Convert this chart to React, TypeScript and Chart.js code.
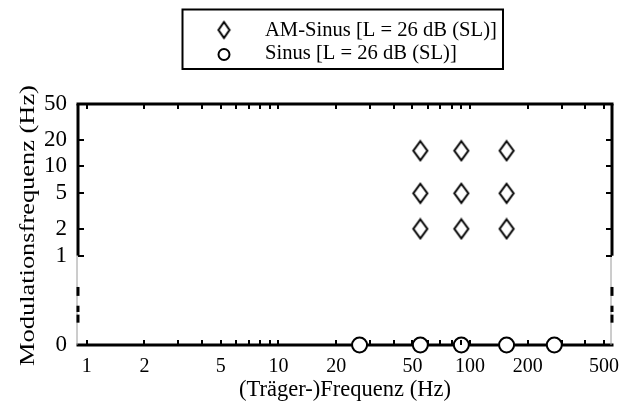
import React, { useEffect, useRef } from 'react';
import { Chart, registerables } from 'chart.js';

Chart.register(...registerables);

const FONT_FAMILY = "'Liberation Serif', 'Times New Roman', serif";

// ---- data ----
const xTickValues = [1, 2, 3, 4, 5, 6, 7, 8, 9, 10, 20, 30, 40, 50, 60, 70, 80, 90, 100, 200, 300, 400, 500];
const xTickLabels = [1, 2, 5, 10, 20, 50, 100, 200, 500];
const yTickValues = [0, 1, 2, 5, 10, 20, 50];
const X_MIN = 0.9;
const X_MAX = 550;
const Y_MAX = 50;
const Y_ZERO = 0.1; // where "0" sits on the broken log axis

const amSinusCarrier = [55, 55, 55, 90, 90, 90, 155, 155, 155];
const amSinusMod = [15, 5, 2, 15, 5, 2, 15, 5, 2];
const sinusCarrier = [26.5, 55, 90, 155, 275];
const sinusMod = [0, 0, 0, 0, 0];

const legendLabels = ['AM-Sinus [L = 26 dB (SL)]', 'Sinus [L = 26 dB (SL)]'];
const xTitle = '(Träger-)Frequenz (Hz)';
const yTitle = 'Modulationsfrequenz (Hz)';

const toY = (v: number) => (v === 0 ? Y_ZERO : v);

function makeDiamond(w: number, h: number, lw: number): HTMLCanvasElement {
  const c = document.createElement('canvas');
  c.width = Math.ceil(w + lw * 2);
  c.height = Math.ceil(h + lw * 2);
  const ctx = c.getContext('2d')!;
  const cx = c.width / 2;
  const cy = c.height / 2;
  ctx.beginPath();
  ctx.moveTo(cx, cy - h / 2);
  ctx.lineTo(cx + w / 2, cy);
  ctx.lineTo(cx, cy + h / 2);
  ctx.lineTo(cx - w / 2, cy);
  ctx.closePath();
  ctx.lineWidth = lw;
  ctx.strokeStyle = '#000';
  ctx.stroke();
  return c;
}

function line(ctx: CanvasRenderingContext2D, x1: number, y1: number, x2: number, y2: number) {
  ctx.beginPath();
  ctx.moveTo(x1, y1);
  ctx.lineTo(x2, y2);
  ctx.stroke();
}

const frame = {
  id: 'frame',
  beforeDatasetsDraw(chart: any) {
    const ctx: CanvasRenderingContext2D = chart.ctx;
    const { left, right, top, bottom } = chart.chartArea;
    const y1 = chart.scales.y.getPixelForValue(1);
    ctx.save();
    ctx.strokeStyle = '#000';
    ctx.lineWidth = 3;
    ctx.lineCap = 'butt';
    line(ctx, left - 1.5, top, right + 1.5, top);
    line(ctx, left - 1.5, bottom, right + 1.5, bottom);
    line(ctx, left, top, left, y1);
    line(ctx, right, top, right, y1);
    // broken section
    ctx.lineWidth = 1;
    ctx.strokeStyle = '#9a9a9a';
    line(ctx, left - 1, y1, left - 1, bottom);
    line(ctx, right - 1, y1, right - 1, bottom);
    ctx.strokeStyle = '#000';
    ctx.lineWidth = 3;
    const segs = [[0.35, 0.45], [0.56, 0.63], [0.66, 0.75]];
    for (const [a, b] of segs) {
      const ya = y1 + a * (bottom - y1);
      const yb = y1 + b * (bottom - y1);
      line(ctx, left, ya, left, yb);
      line(ctx, right, ya, right, yb);
    }
    ctx.restore();
  },
  afterDatasetsDraw(chart: any) {
    const ctx: CanvasRenderingContext2D = chart.ctx;
    const { left, right, top, bottom } = chart.chartArea;
    const xs = chart.scales.x;
    const ys = chart.scales.y;
    ctx.save();
    ctx.strokeStyle = '#000';
    ctx.lineWidth = 2;
    for (const v of xTickValues) {
      const px = Math.round(xs.getPixelForValue(v));
      line(ctx, px, bottom, px, bottom - 5);
      line(ctx, px, top, px, top + 5);
    }
    for (const v of yTickValues) {
      if (v === 0 || v === Y_MAX) continue;
      const py = Math.round(ys.getPixelForValue(toY(v)));
      line(ctx, left, py, left + 6, py);
      line(ctx, right, py, right - 6, py);
    }
    ctx.restore();
  },
  afterDraw(chart: any) {
    const ctx: CanvasRenderingContext2D = chart.ctx;
    const { top, bottom } = chart.chartArea;
    ctx.save();
    // y-axis title (stretched along its length like the reference)
    ctx.save();
    ctx.translate(28, (top + bottom) / 2 + 1);
    ctx.rotate(-Math.PI / 2);
    ctx.scale(1.2, 1);
    ctx.font = `22px ${FONT_FAMILY}`;
    ctx.fillStyle = '#000';
    ctx.textAlign = 'center';
    ctx.textBaseline = 'middle';
    ctx.fillText(yTitle, 0, 0);
    ctx.restore();

    // legend
    ctx.strokeStyle = '#000';
    ctx.lineWidth = 2;
    ctx.strokeRect(182.5, 9.5, 320.5, 59.5);
    const d = makeDiamond(11, 16, 2);
    ctx.drawImage(d, 224 - d.width / 2, 30 - d.height / 2);
    ctx.beginPath();
    ctx.arc(224, 54.5, 5.5, 0, Math.PI * 2);
    ctx.lineWidth = 2;
    ctx.stroke();
    ctx.fillStyle = '#000';
    ctx.font = `20.6px ${FONT_FAMILY}`;
    ctx.textBaseline = 'alphabetic';
    ctx.textAlign = 'left';
    ctx.fillText(legendLabels[0], 265, 35.5);
    ctx.fillText(legendLabels[1], 265, 59);
    ctx.restore();
  },
};

export default function App() {
  const ref = useRef<HTMLCanvasElement>(null);
  useEffect(() => {
    const canvas = ref.current!;
    const diamond = makeDiamond(14, 19, 2);
    const chart = new Chart(canvas, {
      type: 'scatter',
      data: {
        datasets: [
          {
            label: legendLabels[0],
            data: amSinusCarrier.map((x, i) => ({ x, y: toY(amSinusMod[i]) })),
            pointStyle: diamond as any,
            pointRadius: 9,
            showLine: false,
          },
          {
            label: legendLabels[1],
            data: sinusCarrier.map((x, i) => ({ x, y: toY(sinusMod[i]) })),
            pointStyle: 'circle',
            pointRadius: 7.5,
            borderWidth: 2,
            borderColor: '#000',
            backgroundColor: '#fff',
            clip: false as any,
            showLine: false,
          },
        ],
      },
      options: {
        animation: false,
        responsive: false,
        devicePixelRatio: 1,
        layout: { padding: { top: 104, right: 22, left: 0, bottom: 0 } },
        plugins: { legend: { display: false }, tooltip: { enabled: false } },
        scales: {
          x: {
            type: 'logarithmic',
            position: 'bottom',
            min: X_MIN,
            max: X_MAX,
            grid: { display: false, drawTicks: false },
            border: { display: false },
            afterBuildTicks: (s: any) => {
              s.ticks = xTickValues.map((v) => ({ value: v }));
            },
            afterFit: (s: any) => {
              s.height = 69;
            },
            ticks: {
              autoSkip: false,
              maxRotation: 0,
              minRotation: 0,
              padding: 10,
              color: '#000',
              font: { family: FONT_FAMILY, size: 20 },
              callback: (v: any) => (xTickLabels.includes(Number(v)) ? String(v) : ''),
            },
            title: {
              display: true,
              text: xTitle,
              color: '#000',
              font: { family: FONT_FAMILY, size: 22.5 },
              padding: { top: 0, bottom: 10.5 },
            },
          },
          y: {
            type: 'logarithmic',
            position: 'left',
            min: Y_ZERO,
            max: Y_MAX,
            grid: { display: false, drawTicks: false },
            border: { display: false },
            afterBuildTicks: (s: any) => {
              s.ticks = yTickValues.map((v) => ({ value: toY(v) }));
            },
            afterFit: (s: any) => {
              s.width = 78;
            },
            ticks: {
              autoSkip: false,
              padding: 11,
              color: '#000',
              font: { family: FONT_FAMILY, size: 23 },
              callback: (v: any) => (Number(v) === Y_ZERO ? '0' : String(v)),
            },
            title: { display: false },
          },
        },
      },
      plugins: [frame],
    });
    return () => chart.destroy();
  }, []);
  return (
    <div style={{ position: 'fixed', left: 0, top: 0, width: 634, height: 414, background: '#fff' }}>
      <canvas ref={ref} width={634} height={414} style={{ width: 634, height: 414, display: 'block' }} />
    </div>
  );
}
